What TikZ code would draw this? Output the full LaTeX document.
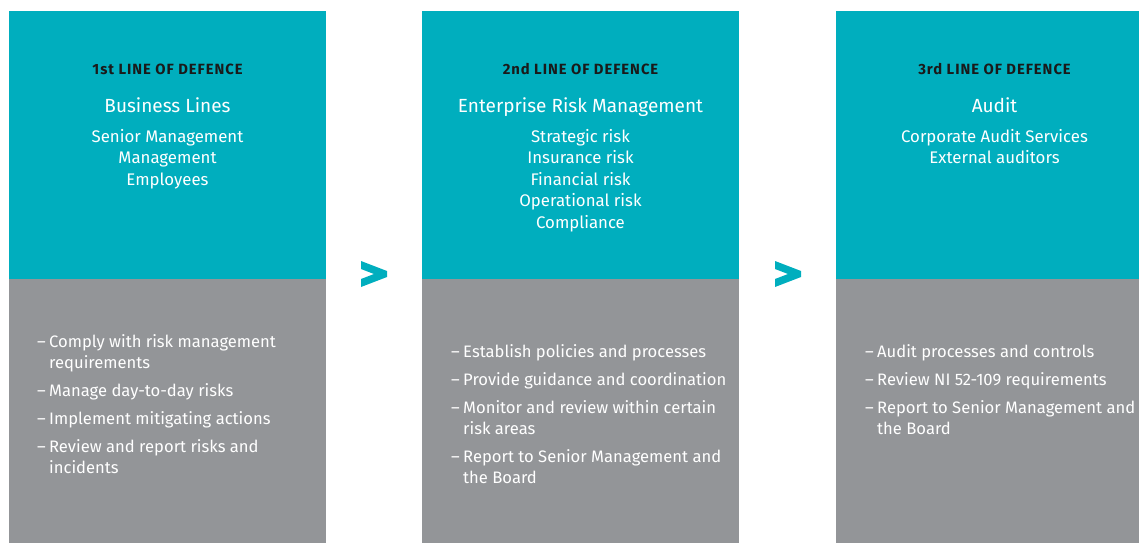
\documentclass[tikz,border=0pt]{standalone}
\usepackage{fontspec}
\setmainfont{Fira Sans}
\newfontfamily\headfont[LetterSpace=6.5]{Fira Sans}
\definecolor{lodteal}{RGB}{0,174,190}
\definecolor{lodgray}{RGB}{147,149,152}
\definecolor{lodink}{RGB}{26,26,26}
\newcommand{\itemdash}{\makebox[12pt][l]{--}}
\newcommand{\itemcont}{\hspace*{12pt}}
\begin{document}
\begin{tikzpicture}[x=1pt,y=-1pt,
  upper/.style={fill=lodteal,inner sep=0pt,anchor=north west,minimum height=268pt},
  lower/.style={fill=lodgray,inner sep=0pt,anchor=north west,minimum height=264pt},
  heading/.style={font=\headfont\fontsize{14.8}{17}\bfseries,text=lodink,anchor=base},
  title/.style={font=\fontsize{19}{22}\selectfont,text=white,anchor=base},
  units/.style={font=\fontsize{16.8}{21.5}\selectfont,text=white,align=center,anchor=north,inner sep=0pt},
  duties/.style={font=\fontsize{16.6}{21}\selectfont,text=white,align=left,anchor=north west,inner sep=0pt}]
  \useasboundingbox (0,0) rectangle (1139,543);
  % coloured blocks, teal on top and gray below
  \node[upper,minimum width=317pt] (top1) at (9,11) {};
  \node[lower,minimum width=317pt] (bot1) at (9,279) {};
  \node[upper,minimum width=317pt] (top2) at (422,11) {};
  \node[lower,minimum width=317pt] (bot2) at (422,279) {};
  \node[upper,minimum width=303pt] (top3) at (836,11) {};
  \node[lower,minimum width=303pt] (bot3) at (836,279) {};
  % first line
  \node[heading] (head1) at (167.5,74.3) {1st LINE OF DEFENCE};
  \node[title] (name1) at (167.5,112.7) {Business Lines};
  \node[units] (who1) at (167.5,128.8) {Senior Management\\Management\\Employees};
  \node[duties] (job1) at (37,334) {\itemdash Comply with risk management\\\itemcont requirements\\[7pt]
    \itemdash Manage day-to-day risks\\[7pt]
    \itemdash Implement mitigating actions\\[7pt]
    \itemdash Review and report risks and\\\itemcont incidents};
  % second line
  \node[heading] (head2) at (580.5,74.3) {2nd LINE OF DEFENCE};
  \node[title] (name2) at (580.5,112.7) {Enterprise Risk Management};
  \node[units] (who2) at (580.5,128.8) {Strategic risk\\Insurance risk\\Financial risk\\Operational risk\\Compliance};
  \node[duties] (job2) at (451,344.6) {\itemdash Establish policies and processes\\[6.5pt]
    \itemdash Provide guidance and coordination\\[7pt]
    \itemdash Monitor and review within certain\\\itemcont risk areas\\[7pt]
    \itemdash Report to Senior Management and\\\itemcont the Board};
  % third line
  \node[heading] (head3) at (994.5,74.3) {3rd LINE OF DEFENCE};
  \node[title] (name3) at (994.5,112.7) {Audit};
  \node[units] (who3) at (994.5,128.8) {Corporate Audit Services\\External auditors};
  \node[duties] (job3) at (865,344.6) {\itemdash Audit processes and controls\\[6.5pt]
    \itemdash Review NI 52-109 requirements\\[7pt]
    \itemdash Report to Senior Management and\\\itemcont the Board};
  % chevrons between the blocks
  \fill[lodteal] (361,261) -- (387,271) -- (387,277) -- (361,287) -- (361,279) -- (374,274) -- (361,269) -- cycle;
  \fill[lodteal] (775,261) -- (801,271) -- (801,277) -- (775,287) -- (775,279) -- (788,274) -- (775,269) -- cycle;
\end{tikzpicture}
\end{document}
